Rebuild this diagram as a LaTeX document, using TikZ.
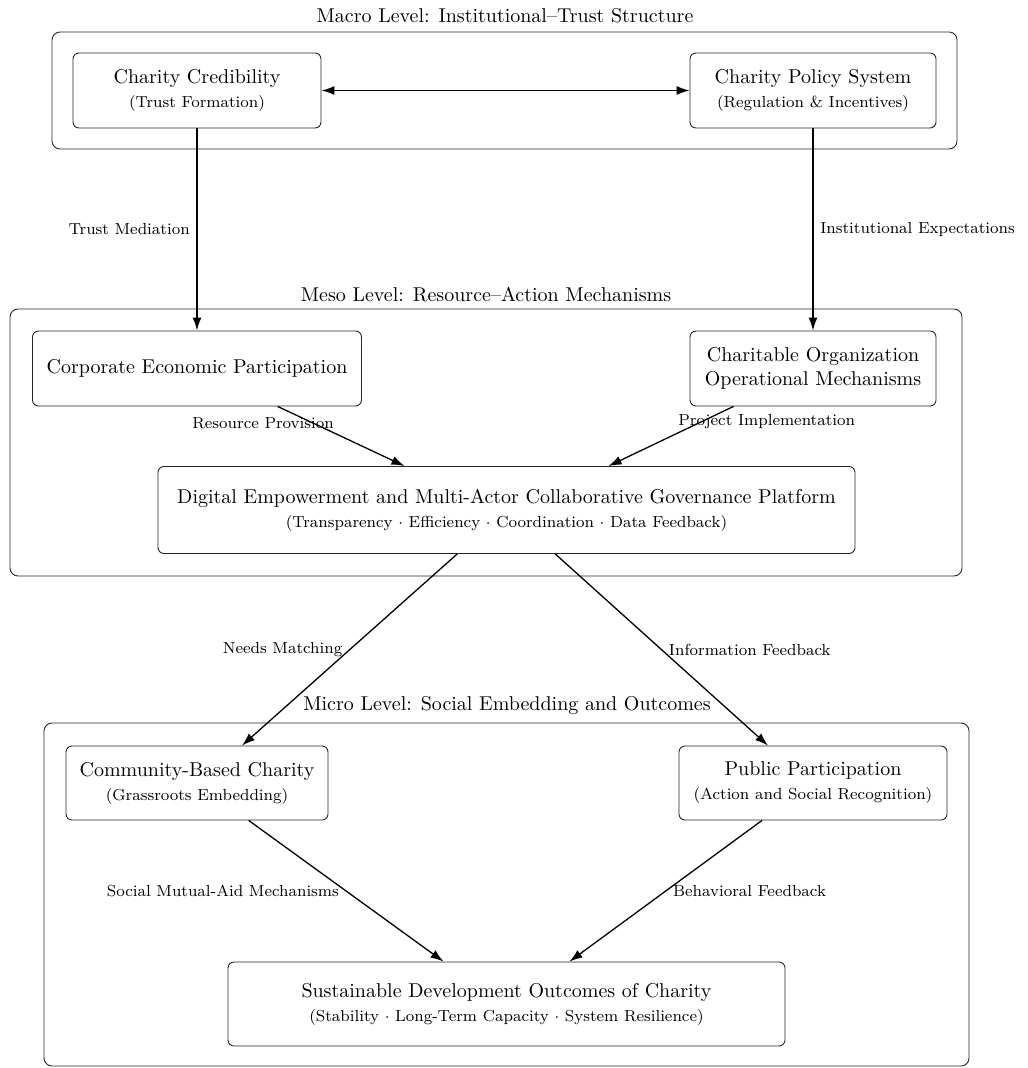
\documentclass[tikz,border=0pt]{standalone}
\usetikzlibrary{arrows.meta}
\begin{document}
\begin{tikzpicture}[x=0.5pt,y=-0.5pt,
  box/.style={draw=black!85, line width=0.45pt, rounded corners=3pt, inner sep=2pt, align=center, font=\normalsize},
  level/.style={draw=black!85, line width=0.45pt, rounded corners=4pt},
  ttl/.style={font=\normalsize, inner sep=0pt},
  arr/.style={-{Latex[length=6.5pt,width=4.5pt]}, line width=0.65pt},
  darr/.style={{Latex[length=6.5pt,width=4.5pt]}-{Latex[length=6.5pt,width=4.5pt]}, line width=0.65pt},
  lab/.style={font=\footnotesize, inner sep=0.333em}]

\useasboundingbox (0,0) rectangle (1027,1068);

% level frames
\draw[level] (52,32) rectangle (957,149);
\node[ttl] (tmacro) at (505,16) {Macro Level: Institutional--Trust Structure};

\draw[level] (10,309) rectangle (962,576);
\node[ttl] (tmeso) at (486,295) {Meso Level: Resource--Action Mechanisms};

\draw[level] (44,723) rectangle (969,1066);
\node[ttl] (tmicro) at (507,706) {Micro Level: Social Embedding and Outcomes};

% macro nodes
\node[box, minimum width=124pt, minimum height=37.5pt] (cc) at (197,90.5)
  {Charity Credibility\\{\footnotesize (Trust Formation)}};
\node[box, minimum width=123pt, minimum height=37.5pt] (cps) at (813,90.5)
  {Charity Policy System\\{\footnotesize (Regulation \& Incentives)}};

% meso nodes
\node[box, minimum width=164.5pt, minimum height=37.5pt] (cep) at (197,368.5)
  {Corporate Economic Participation};
\node[box, minimum width=123pt, minimum height=37.5pt] (coom) at (813,368.5)
  {Charitable Organization\\Operational Mechanisms};
\node[box, minimum width=348.5pt, minimum height=43.5pt] (dig) at (506.5,510)
  {Digital Empowerment and Multi-Actor Collaborative Governance Platform\\{\footnotesize (Transparency $\cdot$ Efficiency $\cdot$ Coordination $\cdot$ Data Feedback)}};

% micro nodes
\node[box, minimum width=131pt, minimum height=37pt] (comm) at (197,783)
  {Community-Based Charity\\{\footnotesize (Grassroots Embedding)}};
\node[box, minimum width=134pt, minimum height=37pt] (pub) at (813,783)
  {Public Participation\\{\footnotesize (Action and Social Recognition)}};
\node[box, minimum width=278.5pt, minimum height=42pt] (sus) at (506.5,1004)
  {Sustainable Development Outcomes of Charity\\{\footnotesize (Stability $\cdot$ Long-Term Capacity $\cdot$ System Resilience)}};

% connectors
\draw[darr] (cc) -- (cps);
\draw[arr] (cc) -- node[lab,left]{Trust Mediation} (cep);
\draw[arr] (cps) -- node[lab,right]{Institutional Expectations} (coom);
\draw[arr] (cep) -- node[lab,above left]{Resource Provision} ([xshift=-51pt]dig.north);
\draw[arr] (coom) -- node[lab,above right]{Project Implementation} ([xshift=51pt]dig.north);
\draw[arr] (dig) -- node[lab,left]{Needs Matching} ([xshift=22.5pt]comm.north);
\draw[arr] (dig) -- node[lab,right]{Information Feedback} ([xshift=-22.5pt]pub.north);
\draw[arr] (comm) -- node[lab,left]{Social Mutual-Aid Mechanisms} ([xshift=-31.5pt]sus.north);
\draw[arr] (pub) -- node[lab,right]{Behavioral Feedback} ([xshift=31.5pt]sus.north);
\end{tikzpicture}
\end{document}
